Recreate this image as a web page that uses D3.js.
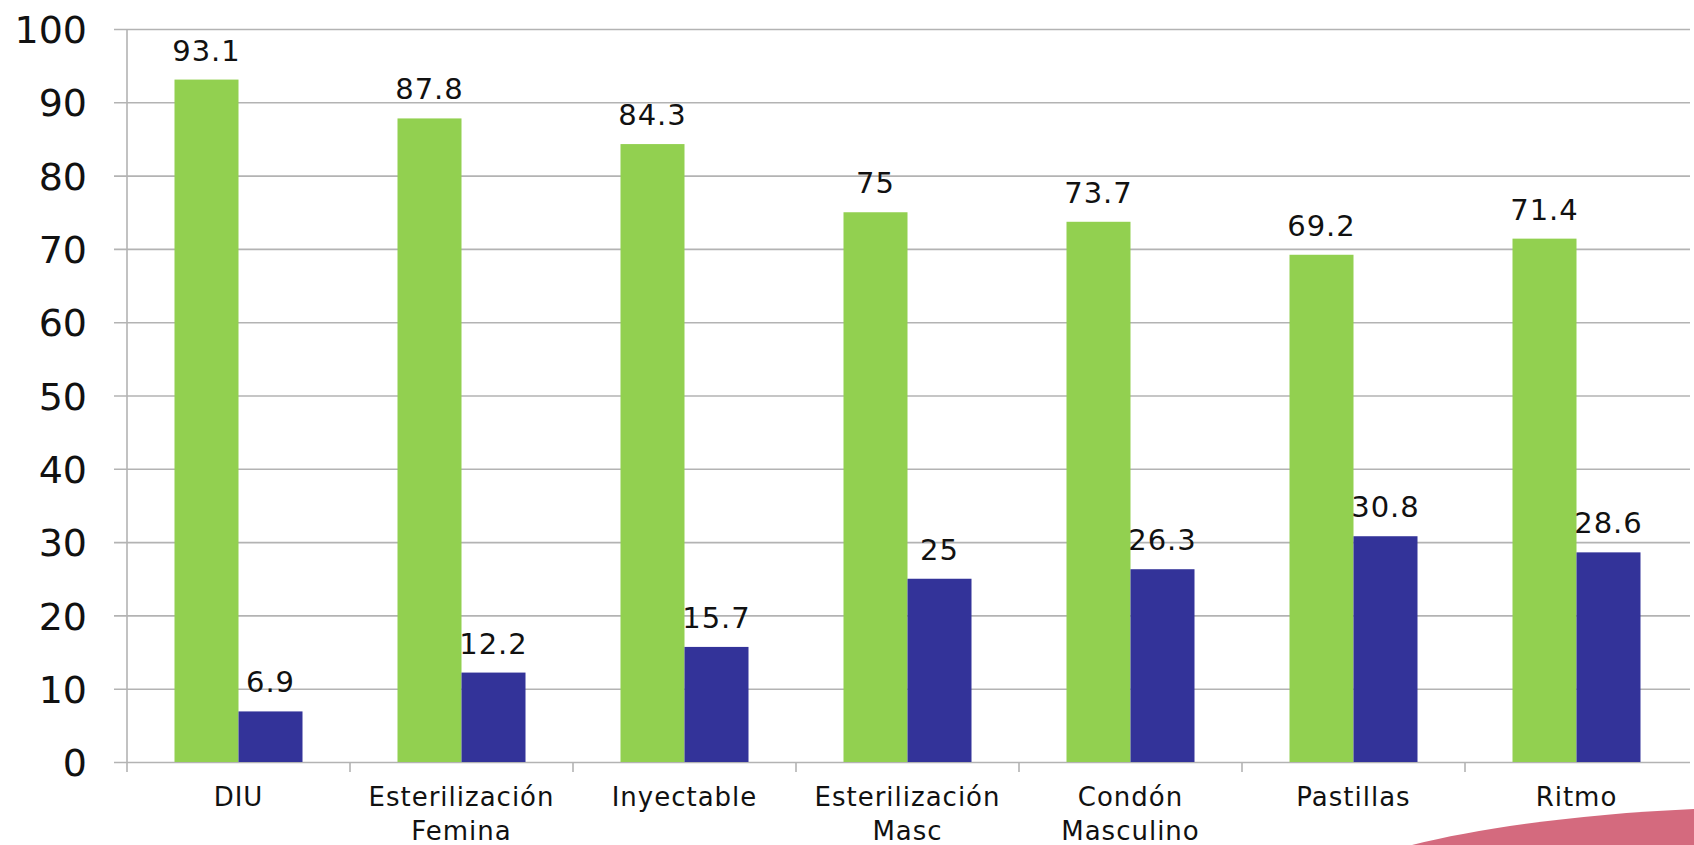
<!DOCTYPE html>
<html>
<head>
<meta charset="utf-8">
<script src="https://cdn.jsdelivr.net/npm/d3@7"></script>
<style>
  html, body { margin: 0; padding: 0; background: #fff; overflow: hidden; }
  text { font-family: "DejaVu Sans", sans-serif; fill: #111; }
</style>
</head>
<body>
<div id="chart"></div>
<script>
// data
var categories = [
  ["DIU"],
  ["Esterilización", "Femina"],
  ["Inyectable"],
  ["Esterilización", "Masc"],
  ["Condón", "Masculino"],
  ["Pastillas"],
  ["Ritmo"]
];
var seriesNames = ["a", "b"];
var greenValues = [93.1, 87.8, 84.3, 75, 73.7, 69.2, 71.4];
var blueValues = [6.9, 12.2, 15.7, 25, 26.3, 30.8, 28.6];
var yTicks = [0, 10, 20, 30, 40, 50, 60, 70, 80, 90, 100];

var w = 1694;
var h = 845;
var plotLeft = 127, plotRight = 1688, plotTop = 29, plotBottom = 762;
var colors = { a: "#92d050", b: "#333399" };

var svg = d3.select('#chart')
  .append('svg')
  .attr('width', w)
  .attr('height', h);

var keys = categories.map(function (d) { return d.join(' '); });

var x0 = d3.scaleBand()
  .domain(keys)
  .range([plotLeft, plotRight])
  .paddingInner(0.426)
  .paddingOuter(0.213);

var x1 = d3.scaleBand()
  .domain(seriesNames)
  .range([0, x0.bandwidth()]);

var y = d3.scaleLinear()
  .domain([0, 100])
  .range([plotBottom, plotTop]);

// gridlines + y labels
var yAxis = d3.axisLeft(y)
  .tickValues(yTicks)
  .tickSize(-(plotRight + 2 - plotLeft + 13))
  .tickPadding(0);

var gy = svg.append('g')
  .attr('transform', 'translate(' + (plotLeft - 13) + ',0)')
  .call(yAxis);
gy.select('.domain').remove();
gy.selectAll('.tick line')
  .attr('stroke', '#b3b3b3')
  .attr('stroke-width', 1.6);
gy.selectAll('.tick text')
  .attr('x', -27)
  .attr('dy', '0.36em')
  .style('font-size', '38px')
  .style('font-family', '"DejaVu Sans", sans-serif')
  .attr('fill', '#111');

// vertical axis line
svg.append('line')
  .attr('x1', plotLeft).attr('x2', plotLeft)
  .attr('y1', plotTop).attr('y2', plotBottom + 10)
  .attr('stroke', '#b3b3b3')
  .attr('stroke-width', 1.6);

// category ticks
svg.selectAll('.ctick')
  .data(keys.slice(1))
  .enter()
  .append('line')
  .attr('class', 'ctick')
  .attr('x1', function (d) { return x0(d) - x0.step() * x0.paddingInner() / 2; })
  .attr('x2', function (d) { return x0(d) - x0.step() * x0.paddingInner() / 2; })
  .attr('y1', plotBottom)
  .attr('y2', plotBottom + 10)
  .attr('stroke', '#b3b3b3')
  .attr('stroke-width', 1.6);

// bars
var rows = keys.map(function (k, i) {
  return { key: k, a: greenValues[i], b: blueValues[i] };
});

var groups = svg.selectAll('.grp')
  .data(rows)
  .enter()
  .append('g')
  .attr('class', 'grp')
  .attr('transform', function (d) { return 'translate(' + x0(d.key) + ',0)'; });

groups.selectAll('rect')
  .data(function (d) { return seriesNames.map(function (s) { return { s: s, v: d[s] }; }); })
  .enter()
  .append('rect')
  .attr('x', function (d) { return x1(d.s); })
  .attr('y', function (d) { return y(d.v); })
  .attr('width', x1.bandwidth())
  .attr('height', function (d) { return plotBottom - y(d.v); })
  .attr('fill', function (d) { return colors[d.s]; });

groups.selectAll('.val')
  .data(function (d) { return seriesNames.map(function (s) { return { s: s, v: d[s] }; }); })
  .enter()
  .append('text')
  .attr('class', 'val')
  .attr('x', function (d) { return x1(d.s) + x1.bandwidth() / 2; })
  .attr('y', function (d) { return y(d.v) - 19; })
  .attr('text-anchor', 'middle')
  .style('font-size', '29px')
  .style('letter-spacing', '1px')
  .text(function (d) { return d.v; });

// category labels
var cl = svg.selectAll('.clabel')
  .data(categories)
  .enter()
  .append('text')
  .attr('class', 'clabel')
  .attr('text-anchor', 'middle')
  .attr('x', function (d, i) { return x0(keys[i]) + x0.bandwidth() / 2; })
  .attr('y', 806)
  .style('font-size', '26px')
  .style('letter-spacing', '1px');

cl.selectAll('tspan')
  .data(function (d) { return d; })
  .enter()
  .append('tspan')
  .attr('x', function () { return d3.select(this.parentNode).attr('x'); })
  .attr('dy', function (d, i) { return i === 0 ? 0 : 34; })
  .text(function (d) { return d; });

// decorative swoosh bottom right
svg.append('path')
  .attr('d', 'M1412,845 C1480,828 1580,814 1694,809 L1694,845 Z')
  .attr('fill', '#d46a7e');
</script>
</body>
</html>
